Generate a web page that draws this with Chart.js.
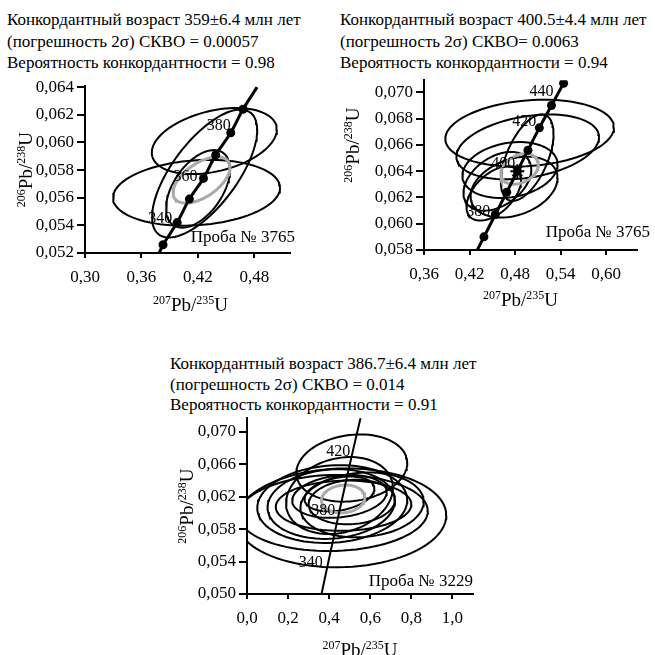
<!DOCTYPE html>
<html>
<head>
<meta charset="utf-8">
<script src="https://cdn.jsdelivr.net/npm/chart.js@4.4.1/dist/chart.umd.min.js"></script>
<style>
  body { margin: 0; background: #fff; }
  #page { position: relative; width: 655px; height: 655px; overflow: hidden; font-family: "Liberation Serif", "Times New Roman", serif; }
  .cap { position: absolute; font-size: 17px; line-height: 21.5px; color: #000; white-space: nowrap; }
  canvas { position: absolute; }
</style>
</head>
<body>
<div id="page">
  <div class="cap" style="left:7px;top:9px">Конкордантный возраст 359±6.4 млн лет<br>(погрешность 2σ) СКВО = 0.00057<br>Вероятность конкордантности = 0.98</div>
  <div class="cap" style="left:340px;top:9px">Конкордантный возраст 400.5±4.4 млн лет<br>(погрешность 2σ) СКВО= 0.0063<br>Вероятность конкордантности = 0.94</div>
  <div class="cap" style="left:170px;top:354px;line-height:20.5px">Конкордантный возраст 386.7±6.4 млн лет<br>(погрешность 2σ) СКВО = 0.014<br>Вероятность конкордантности = 0.91</div>
  <canvas id="cA" width="300" height="242" style="left:0px;top:73px"></canvas>
  <canvas id="cB" width="325" height="248" style="left:330px;top:67px"></canvas>
  <canvas id="cC" width="325" height="250" style="left:160px;top:405px"></canvas>
</div>
<script>
// ---- sample 3765, left ----
const ticksXA = [0.30, 0.36, 0.42, 0.48];
const ticksYA = [0.052, 0.054, 0.056, 0.058, 0.060, 0.062, 0.064];
const curveAgesA = [325, 330, 340, 350, 360, 370, 380, 390, 400];
const curveXA = [0.377, 0.383, 0.398, 0.411, 0.426, 0.439, 0.455, 0.468, 0.483];
const curveYA = [0.0517, 0.0526, 0.0542, 0.0559, 0.0574, 0.0591, 0.0607, 0.0624, 0.0640];
const markAgesA = [330, 340, 350, 360, 370, 380, 390];
const labelAgesA = [340, 360, 380];
// error ellipses: 207Pb/235U, ±2σ, 206Pb/238U, ±2σ, rho
const ellXA = [0.4375, 0.4186, 0.4272, 0.4202];
const ellSxA = [0.0665, 0.0888, 0.0559, 0.0340];
const ellYA = [0.0601, 0.05636, 0.05775, 0.05664];
const ellSyA = [0.00239, 0.00238, 0.00463, 0.00281];
const ellRhoA = [0.35, 0.15, 0.68, 0.5];
const meanA = [0.4239, 0.0303, 0.05728, 0.00167, 0.55];

// ---- sample 3765, right ----
const ticksXB = [0.36, 0.42, 0.48, 0.54, 0.60];
const ticksYB = [0.058, 0.060, 0.062, 0.064, 0.066, 0.068, 0.070];
const curveAgesB = [360, 370, 380, 390, 400, 410, 420, 430, 440];
const curveXB = [0.425, 0.439, 0.454, 0.469, 0.483, 0.497, 0.512, 0.528, 0.544];
const curveYB = [0.0574, 0.0590, 0.0607, 0.0624, 0.0640, 0.0656, 0.0673, 0.0690, 0.0707];
const markAgesB = [370, 380, 390, 400, 410, 420, 430, 440];
const labelAgesB = [380, 400, 420, 440];
const ellXB = [0.4992, 0.4967, 0.4960, 0.4733, 0.4567, 0.4787, 0.4520];
const ellSxB = [0.1111, 0.0940, 0.0347, 0.0627, 0.0447, 0.0573, 0.0360];
const ellYB = [0.0669, 0.06585, 0.06503, 0.06409, 0.06323, 0.06279, 0.0623];
const ellSyB = [0.00254, 0.00247, 0.00329, 0.00213, 0.00224, 0.00232, 0.00206];
const ellRhoB = [0.17, 0.3, 0.55, 0.2, 0.4, 0.3, 0.5];
const meanB = [0.486, 0.0247, 0.06417, 0.00116, 0.3];
const concordiaB = [0.483, 0.0640];

// ---- sample 3229 ----
const ticksXC = [0.0, 0.2, 0.4, 0.6, 0.8, 1.0];
const ticksYC = [0.050, 0.054, 0.058, 0.062, 0.066, 0.070];
const curveAgesC = [310, 340, 380, 420, 450];
const curveXC = [0.357, 0.398, 0.454, 0.512, 0.558];
const curveYC = [0.0493, 0.0542, 0.0607, 0.0673, 0.0723];
const labelAgesC = [340, 380, 420];
const ellXC = [0.46, 0.42, 0.51, 0.415, 0.41, 0.45, 0.51, 0.45, 0.45, 0.47, 0.56];
const ellSxC = [0.51, 0.46, 0.27, 0.365, 0.31, 0.26, 0.21, 0.23, 0.17, 0.33, 0.30];
const ellYC = [0.0594, 0.0600, 0.06555, 0.0611, 0.0611, 0.06215, 0.06135, 0.06205, 0.06235, 0.0609, 0.0610];
const ellSyC = [0.0061, 0.0047, 0.00415, 0.0048, 0.0043, 0.00475, 0.00275, 0.00265, 0.00215, 0.0031, 0.0040];
const ellRhoC = [0.05, 0.05, 0.15, 0.1, 0.1, 0.2, 0.1, 0.2, 0.3, 0.05, 0.1];
const meanC = [0.4685, 0.1055, 0.06173, 0.00172, 0.1];

const FONT = '"Liberation Serif", "Times New Roman", serif';
const titleX = [['207', true], ['Pb/', false], ['235', true], ['U', false]];
const titleY = [['206', true], ['Pb/', false], ['238', true], ['U', false]];

function ellipsePts(cx, sx, cy, sy, rho) {
  const pts = [];
  const k = Math.sqrt(1 - rho * rho);
  for (let i = 0; i <= 90; i++) {
    const t = i / 90 * 2 * Math.PI;
    pts.push({ x: cx + sx * Math.cos(t), y: cy + sy * (rho * Math.cos(t) + k * Math.sin(t)) });
  }
  return pts;
}

function drawSup(ctx, parts, cx, y) {
  const big = '19px ' + FONT, small = '12px ' + FONT;
  let w = 0;
  parts.forEach(p => { ctx.font = p[1] ? small : big; w += ctx.measureText(p[0]).width; });
  let x = cx - w / 2;
  ctx.textAlign = 'left';
  ctx.textBaseline = 'alphabetic';
  parts.forEach(p => {
    ctx.font = p[1] ? small : big;
    ctx.fillText(p[0], x, p[1] ? y - 7 : y);
    x += ctx.measureText(p[0]).width;
  });
}

function textPlugin(st) {
  return {
    id: 'texts',
    afterDatasetsDraw(chart) {
      const ctx = chart.ctx, a = chart.chartArea;
      const xs = chart.scales.x, ys = chart.scales.y;
      ctx.save();
      ctx.fillStyle = '#000';
      ctx.font = '16px ' + FONT;
      ctx.textAlign = 'right';
      ctx.textBaseline = 'middle';
      st.labelAges.forEach((age, i) => {
        const j = st.ages.indexOf(age);
        const px = xs.getPixelForValue(st.cx[j]) + st.labelOff[i][0];
        const py = ys.getPixelForValue(st.cy[j]) + st.labelOff[i][1];
        ctx.fillText(String(age), px, py);
      });
      ctx.font = '17px ' + FONT;
      ctx.textBaseline = 'alphabetic';
      ctx.fillText(st.sample, a.right + st.sampleOff[0], a.bottom + st.sampleOff[1]);
      drawSup(ctx, titleX, (a.left + a.right) / 2 + st.xTitle[0], a.bottom + st.xTitle[1]);
      ctx.translate(a.left - st.yTitle[0], (a.top + a.bottom) / 2 + st.yTitle[1]);
      ctx.rotate(-Math.PI / 2);
      drawSup(ctx, titleY, 0, 0);
      ctx.restore();
    }
  };
}

function buildChart(id, d, st) {
  const datasets = [];
  if (d.markAges.length) {
    datasets.push({
      data: d.markAges.map(age => { const j = d.ages.indexOf(age); return { x: d.cx[j], y: d.cy[j] }; }),
      showLine: false, pointRadius: 4.5, pointBackgroundColor: '#000', pointBorderColor: '#000', pointBorderWidth: 0
    });
  }
  if (d.star) {
    datasets.push({
      data: [{ x: d.star[0], y: d.star[1] }], showLine: false, pointStyle: 'star',
      pointRadius: 7, pointBorderColor: '#000', pointBorderWidth: 2
    });
  }
  datasets.push({
    data: d.cx.map((x, i) => ({ x: x, y: d.cy[i] })),
    showLine: true, borderColor: '#000', borderWidth: st.curveWidth, pointRadius: 0, tension: 0.3
  });
  datasets.push({
    data: ellipsePts(...d.mean), showLine: true, borderColor: '#a9a9a9', borderWidth: 3, pointRadius: 0
  });
  d.ex.forEach((x, i) => {
    datasets.push({
      data: ellipsePts(x, d.esx[i], d.ey[i], d.esy[i], d.erho[i]),
      showLine: true, borderColor: '#000', borderWidth: 2, pointRadius: 0
    });
  });

  const axis = (ticks, min, max, dec, fit) => ({
    type: 'linear', min: min, max: max,
    afterBuildTicks: s => { s.ticks = ticks.map(v => ({ value: v })); },
    afterFit: fit,
    grid: { drawOnChartArea: false, color: '#000', lineWidth: 2, tickLength: 0 },
    border: { color: '#000', width: 2 },
    ticks: { color: '#000', font: { family: FONT, size: 17 }, padding: 0,
      callback: v => Number(v).toFixed(dec).replace('.', ',') }
  });
  const xAxis = axis(d.ticksX, d.xr[0], d.xr[1], d.decX, s => { s.height = st.xh; });
  xAxis.grid.tickLength = 5; xAxis.ticks.padding = 9;
  const yAxis = axis(d.ticksY, d.yr[0], d.yr[1], 3, s => { s.width = st.yw; });
  yAxis.grid.tickLength = 8; yAxis.ticks.padding = 3;

  return new Chart(document.getElementById(id), {
    type: 'scatter',
    data: { datasets: datasets },
    options: {
      responsive: false, animation: false, events: [],
      layout: { padding: { top: 10, right: st.padRight, left: 0, bottom: 0 } },
      plugins: { legend: { display: false }, tooltip: { enabled: false } },
      elements: { line: { fill: false } },
      scales: { x: xAxis, y: yAxis }
    },
    plugins: [textPlugin(Object.assign({ ages: d.ages, cx: d.cx, cy: d.cy }, st))]
  });
}

buildChart('cA', {
  ticksX: ticksXA, ticksY: ticksYA, xr: [0.30, 0.518], yr: [0.052, 0.06407], decX: 2,
  ages: curveAgesA, cx: curveXA, cy: curveYA, markAges: markAgesA,
  ex: ellXA, esx: ellSxA, ey: ellYA, esy: ellSyA, erho: ellRhoA, mean: meanA
}, {
  xh: 62, yw: 85, padRight: 10, curveWidth: 3,
  labelAges: labelAgesA, labelOff: [[-5, -4], [-6, -2], [0, -7]],
  sample: 'Проба № 3765', sampleOff: [5, -11], xTitle: [3, 58], yTitle: [53, 0]
});

buildChart('cB', {
  ticksX: ticksXB, ticksY: ticksYB, xr: [0.36, 0.6407], yr: [0.058, 0.07093], decX: 2,
  ages: curveAgesB, cx: curveXB, cy: curveYB, markAges: markAgesB, star: concordiaB,
  ex: ellXB, esx: ellSxB, ey: ellYB, esy: ellSyB, erho: ellRhoB, mean: meanB
}, {
  xh: 65, yw: 94, padRight: 18, curveWidth: 3,
  labelAges: labelAgesB, labelOff: [[-5, -3], [-2, -7.5], [-3, -6], [-10, 9]],
  sample: 'Проба № 3765', sampleOff: [13, -13], xTitle: [-10, 56], yTitle: [65, -20]
});

buildChart('cC', {
  ticksX: ticksXC, ticksY: ticksYC, xr: [0.0, 1.1], yr: [0.050, 0.0717], decX: 1,
  ages: curveAgesC, cx: curveXC, cy: curveYC, markAges: [],
  ex: ellXC, esx: ellSxC, ey: ellYC, esy: ellSyC, erho: ellRhoC, mean: meanC
}, {
  xh: 61, yw: 87, padRight: 12, curveWidth: 2,
  labelAges: labelAgesC, labelOff: [[-6, 3], [-5, 3], [-2, -2]],
  sample: 'Проба № 3229', sampleOff: [0, -8], xTitle: [0, 62], yTitle: [54, 0]
});
</script>
</body>
</html>
